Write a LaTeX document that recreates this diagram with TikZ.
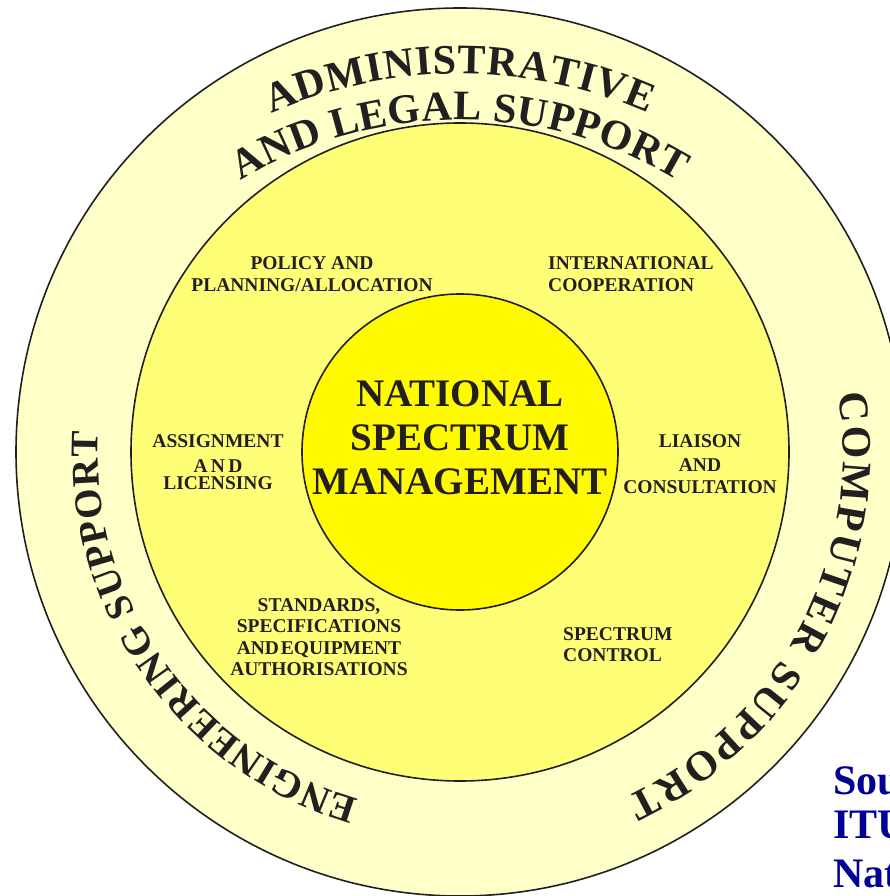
\documentclass[tikz,border=0pt]{standalone}
\usepackage{fontspec}
\setmainfont{Liberation Serif}
\usetikzlibrary{decorations.text,calc}
\newcommand\labfont{\fontsize{19.5}{22}\selectfont\bfseries}
\newcommand\arcfont{\fontsize{42}{42}\selectfont\bfseries}
\definecolor{ringout}{RGB}{255,255,200}
\definecolor{ringmid}{RGB}{255,255,119}
\definecolor{corefill}{RGB}{255,250,0}
\definecolor{ink}{RGB}{35,31,32}
\definecolor{srcblue}{RGB}{0,0,150}
\begin{document}
\begin{tikzpicture}[x=1pt,y=1pt,
  ring/.style={circle, draw=ink, line width=1.6pt, inner sep=0pt},
  lab/.style={font=\labfont, text=ink, align=center, inner sep=0pt},
  arctext/.style={decorate, decoration={text along path, text format delimiters={|}{|}, text align=fit to path, text color=ink}}]
\useasboundingbox (0,0) rectangle (890,-896);
\coordinate (c) at (460,-452);
\coordinate (ca) at (460,-544);
\node[ring, fill=ringout, minimum size=888pt] (outer) at (c) {};
\node[ring, fill=ringmid, minimum size=658pt] (middle) at (c) {};
\node[ring, fill=corefill, minimum size=316pt] (core) at (c) {};
% centre title
\node[lab, font=\fontsize{39}{44}\selectfont\bfseries] (nsm) at (460,-437.5) {NATIONAL\\SPECTRUM\\MANAGEMENT};
% ring labels
\node[lab] (policy) at (312,-274) {POLICY AND\\PLANNING/ALLOCATION};
\node[lab, align=left, anchor=west] (intl) at (548,-274) {INTERNATIONAL\\COOPERATION};
\node[lab] (assign) at (218,-462) {ASSIGNMENT\\[3pt]A\,N\,D\\[-5pt]LICENSING};
\node[lab] (liaison) at (700,-464) {LIAISON\\[2pt]AND\\CONSULTATION};
\node[lab, font=\fontsize{19.5}{21.3}\selectfont\bfseries] (stand) at (319,-637) {STANDARDS,\\SPECIFICATIONS\\AND\hspace{2pt}EQUIPMENT\\AUTHORISATIONS};
\node[lab, align=left, anchor=west, font=\fontsize{19.5}{21}\selectfont\bfseries] (control) at (563,-644.5) {SPECTRUM\\CONTROL};
% curved support texts
\path[arctext, decoration={text={|\arcfont|ADMINISTRATIVE}}]
  ($(ca)+(113.7:470)$) arc[start angle=113.7, end angle=66.4, radius=470];
\path[arctext, decoration={text={|\arcfont|AND LEGAL SUPPORT}}]
  ($(ca)+(121.1:424)$) arc[start angle=121.1, end angle=58.9, radius=424];
\path[arctext, decoration={text={|\fontsize{39}{39}\selectfont\bfseries|ENGINEERING SUPPORT}}]
  ($(c)+(253.8:362)$) arc[start angle=253.8, end angle=176.8, radius=362];
\path[arctext, decoration={text={|\arcfont|COMPUTER SUPPORT}}]
  ($(c)+(8.8:383)$) arc[start angle=8.8, end angle=-64.4, radius=383];
% cut-off source note
\node[font=\fontsize{42}{44}\selectfont\bfseries, text=srcblue, align=left, anchor=north west, inner sep=0pt] (src) at (833,-766) {Sou\\ITU\\[5pt]Nat};
\end{tikzpicture}
\end{document}
